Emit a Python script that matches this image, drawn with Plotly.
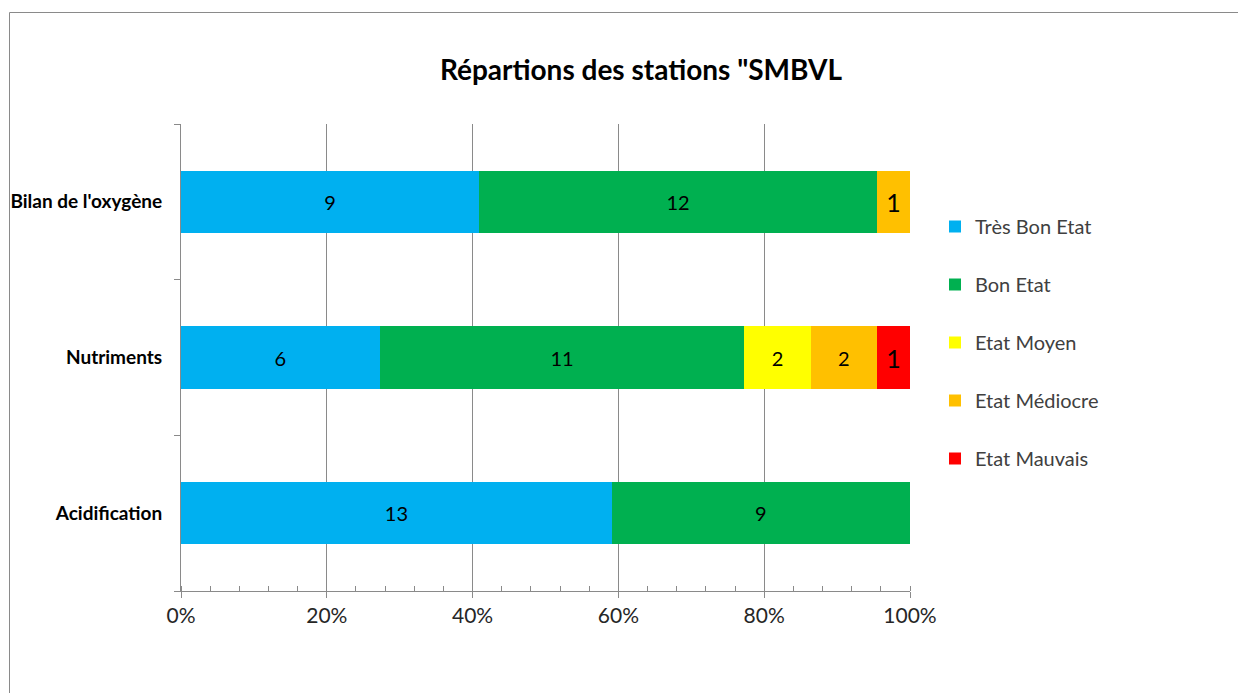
import plotly.graph_objects as go

categories = ["Bilan de l'oxygène", "Nutriments", "Acidification"]
series_names = ["Très Bon Etat", "Bon Etat", "Etat Moyen", "Etat Médiocre", "Etat Mauvais"]
tres_bon = [9, 6, 13]
bon = [12, 11, 9]
moyen = [0, 2, 0]
mediocre = [1, 2, 0]
mauvais = [0, 1, 0]
x_ticks = [0, 0.2, 0.4, 0.6, 0.8, 1.0]
title = "Répartions des stations \"SMBVL"

colors = ["#00B0F0", "#00B050", "#FFFF00", "#FFC000", "#FF0000"]
all_values = [tres_bon, bon, moyen, mediocre, mauvais]
FONT = "Lato, Carlito, 'Open Sans', sans-serif"

# figure pixel geometry (page body has an 8px margin)
W, H = 1238, 685
L, R, T, B = 173, 902, 116, 583
PW, PH = R - L, B - T

fig = go.Figure()
for name, vals, col in zip(series_names, all_values, colors):
    texts = [str(v) if v else "" for v in vals]
    sizes = [25 if v == 1 else 20 for v in vals]
    fig.add_trace(go.Bar(
        y=categories, x=vals, name=name, orientation="h",
        marker=dict(color=col, line=dict(width=0)),
        text=texts, texttemplate="%{text}", textposition="inside",
        insidetextanchor="middle",
        textfont=dict(color="black", size=sizes, family=FONT),
        legendgroup=name,
    ))

fig.add_shape(type="rect", xref="paper", yref="paper",
              x0=(1.5 - L) / PW, x1=(W + 20 - L) / PW,
              y0=(B - H - 30) / PH, y1=(B - 4.5) / PH,
              line=dict(color="#8a8a8a", width=1), fillcolor="rgba(0,0,0,0)", layer="below")

fig.update_layout(
    width=W, height=H,
    margin=dict(l=L, r=W - R, t=T, b=H - B, autoexpand=False),
    barmode="stack", barnorm="fraction", bargap=0.6,
    plot_bgcolor="white", paper_bgcolor="white",
    font=dict(family=FONT, color="#404040", size=19),
    title=dict(text="<b>" + title + "</b>", x=633 / W, xref="container", xanchor="center",
               y=1 - 62 / H, yref="container", yanchor="middle",
               font=dict(size=28, color="black", family=FONT)),
    legend=dict(x=(927 - L) / PW, xanchor="left", y=(B - 199) / PH, yanchor="top",
                traceorder="grouped", tracegroupgap=29,
                font=dict(size=20, color="#404040", family=FONT), itemclick=False),
    showlegend=True,
)
fig.update_xaxes(
    range=[0, 1], tickvals=x_ticks, tickformat=".0%",
    showgrid=True, gridcolor="#8a8a8a", gridwidth=1,
    showline=True, linecolor="#8a8a8a", linewidth=1,
    ticks="outside", ticklen=6, tickcolor="#8a8a8a",
    minor=dict(dtick=0.04, ticks="inside", ticklen=5, tickcolor="#8a8a8a", showgrid=False),
    tickfont=dict(size=21, color="#262626", family=FONT),
    zeroline=False, fixedrange=True, automargin=False,
)
fig.update_yaxes(
    categoryorder="array", categoryarray=categories[::-1],
    tickson="boundaries", ticks="outside", ticklen=6, tickcolor="#8a8a8a",
    showline=True, linecolor="#8a8a8a", linewidth=1, showgrid=False,
    tickfont=dict(size=19, color="black", family=FONT),
    ticklabelstandoff=14, fixedrange=True, automargin=False,
    tickprefix="<b>", ticksuffix="</b>",
)

fig.write_html("out.html")
